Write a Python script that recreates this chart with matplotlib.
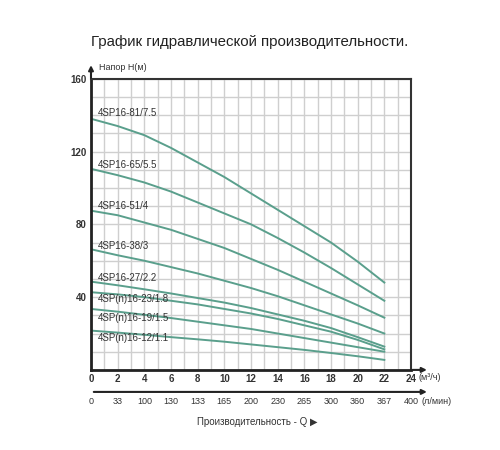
import numpy as np
import matplotlib
matplotlib.use("Agg")
import matplotlib.pyplot as plt

plt.rcParams['font.family'] = ['Liberation Sans', 'DejaVu Sans']

# расход, м3/ч
q = [0, 2, 4, 6, 8, 10, 12, 14, 16, 18, 20, 22]

# напор по моделям, м
h_81 = [138, 134, 129, 122, 114, 106, 97, 88, 79, 70, 59.5, 48]
h_65 = [110.5, 107, 103, 98, 92, 86, 80, 72.5, 64.5, 56, 47, 38]
h_51 = [87.5, 85, 81, 77, 72, 67, 61, 55, 48.5, 42, 35.5, 28.7]
h_38 = [66.3, 63, 60, 56.5, 53, 49, 45, 40.5, 35.5, 30.5, 25.5, 20]
h_27 = [48.5, 46.5, 44.3, 42, 39.5, 37, 34, 30.5, 27, 23, 18, 12.8]
h_23 = [42.7, 41.5, 40, 38, 36, 33.5, 31, 28, 24.5, 21, 16.5, 11.3]
h_19 = [33.5, 32, 30.3, 28.5, 26.5, 24.5, 22.5, 20, 17.5, 15, 12.5, 10]
h_12 = [21.6, 20.5, 19.3, 18, 16.8, 15.5, 14, 12.5, 11, 9.3, 7.5, 5.5]

models = ["4SP16-81/7.5", "4SP16-65/5.5", "4SP16-51/4", "4SP16-38/3",
          "4SP16-27/2.2", "4SP(n)16-23/1.8", "4SP(n)16-19/1.5", "4SP(n)16-12/1.1"]
heads = [h_81, h_65, h_51, h_38, h_27, h_23, h_19, h_12]
label_y = [141, 112.5, 90, 68, 50.5, 38.8, 28.5, 17.8]

q_ticks = [0, 2, 4, 6, 8, 10, 12, 14, 16, 18, 20, 22, 24]
lmin_labels = ["0", "33", "100", "130", "133", "165", "200", "230", "265",
               "300", "360", "367", "400"]

fig = plt.figure(figsize=(5, 4.5), dpi=100)
ax = fig.add_axes([0.182, 0.178, 0.64, 0.647])

green = "#5a9f8c"
for name, h, ly in zip(models, heads, label_y):
    ax.plot(q, h, color=green, lw=1.4)
    ax.text(0.5, ly, name, fontsize=7, color="#333333", va="center", ha="left")

ax.set_xlim(0, 24)
ax.set_ylim(0, 160)
ax.set_xticks(np.arange(0, 25, 1), minor=True)
ax.set_yticks(np.arange(0, 161, 10), minor=True)
ax.set_xticks(q_ticks)
ax.set_xticklabels([str(t) for t in q_ticks], fontsize=7, fontweight="bold", color="#333333")
ax.set_yticks([40, 80, 120, 160])
ax.set_yticklabels(["40", "80", "120", "160"], fontsize=7, fontweight="bold", color="#333333")
ax.tick_params(which="both", length=0, pad=3)
ax.grid(which="both", color="#cfcfcf", lw=1)
ax.set_axisbelow(True)

for side in ["left", "bottom"]:
    ax.spines[side].set_linewidth(2)
    ax.spines[side].set_color("#222222")
for side in ["top", "right"]:
    ax.spines[side].set_linewidth(1.5)
    ax.spines[side].set_color("#333333")

# стрелки осей
ax.annotate("", xy=(0, 169), xytext=(0, 159), annotation_clip=False,
            arrowprops=dict(arrowstyle="-|>", color="#222222", lw=1.5, mutation_scale=7))
ax.annotate("", xy=(25.4, 0), xytext=(23.9, 0), annotation_clip=False,
            arrowprops=dict(arrowstyle="-|>", color="#222222", lw=1.5, mutation_scale=7))
ax.text(0.6, 166, "Напор H(м)", fontsize=6.5, color="#333333", va="center", clip_on=False)
ax.text(24.55, -4.4, "(м³/ч)", fontsize=6.5, color="#333333", va="center", clip_on=False)

# вторая шкала, л/мин
ax.annotate("", xy=(25.4, -12.1), xytext=(0, -12.1), annotation_clip=False,
            arrowprops=dict(arrowstyle="-|>", color="#222222", lw=1.5, mutation_scale=7))
for t, lab in zip(q_ticks, lmin_labels):
    ax.text(t, -17.6, lab, fontsize=6.5, color="#333333", ha="center", va="center", clip_on=False)
ax.text(24.8, -17.6, "(л/мин)", fontsize=6.5, color="#333333", va="center", clip_on=False)

fig.text(0.514, 0.062, "Производительность - Q ▶", fontsize=7, color="#333333", ha="center", va="center")
fig.text(0.5, 0.907, "График гидравлической производительности.", fontsize=10.8,
         color="#222222", ha="center", va="center")

fig.savefig("out.png", dpi=100)
